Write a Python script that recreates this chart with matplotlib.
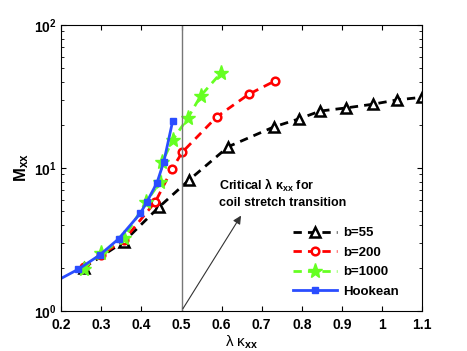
import numpy as np
import matplotlib.pyplot as plt

plt.rcParams['font.family'] = ['Liberation Sans', 'DejaVu Sans']
plt.rcParams['mathtext.fontset'] = 'custom'
plt.rcParams['mathtext.rm'] = 'Liberation Sans'
plt.rcParams['mathtext.bf'] = 'Liberation Sans:bold'

# b=55
x55 = [0.256, 0.356, 0.443, 0.518, 0.617, 0.731, 0.792, 0.846, 0.911, 0.977, 1.037, 1.10]
m55 = [2.0, 3.05, 5.3, 8.2, 14.1, 19.4, 22.0, 25.0, 26.3, 27.9, 29.9, 31.2]
# b=200
x200 = [0.256, 0.30, 0.356, 0.435, 0.477, 0.502, 0.588, 0.668, 0.733]
m200 = [2.02, 2.48, 3.12, 5.81, 9.9, 12.9, 22.8, 32.8, 40.6]
# b=1000
x1000 = [0.256, 0.30, 0.356, 0.412, 0.447, 0.452, 0.478, 0.516, 0.548, 0.599]
m1000 = [1.98, 2.53, 3.22, 5.8, 8.0, 11.0, 15.7, 22.4, 32.0, 46.4]
# Hookean
xh = [0.2, 0.243, 0.296, 0.343, 0.3975, 0.414, 0.439, 0.456, 0.478]
mh = [1.69, 1.96, 2.46, 3.19, 4.82, 5.81, 7.9, 11.07, 21.3]

fig = plt.figure(figsize=(4.67, 3.51), dpi=100)
ax = fig.add_axes([0.131, 0.114, 0.773, 0.815])

dash = (0, (3, 2.2))
ax.plot(x55, m55, color='k', ls=dash, lw=2, marker='^', ms=7, mfc='white',
        mec='k', mew=1.8, label='b=55')
ax.plot(x200, m200, color='#ff0000', ls=dash, lw=2, marker='o', ms=5.5, mfc='white',
        mec='#ff0000', mew=1.8, label='b=200')
ax.plot(x1000, m1000, color='#66ff22', ls=dash, lw=2, marker='*', ms=11,
        mfc='#66ff22', mec='#66ff22', label='b=1000')
ax.plot(xh, mh, color='#2a4dff', ls='-', lw=2, marker='s', ms=4.5,
        markevery=slice(1, None), label='Hookean')

ax.axvline(0.5, color='#777777', lw=1)
ax.annotate('', xy=(0.652, 4.82), xytext=(0.5, 1.0),
            arrowprops=dict(arrowstyle='-|>', color='#333333', lw=0.8, mutation_scale=12))
ax.text(0.593, 7.6, r'Critical λ κ$_{\mathbf{xx}}$ for', fontsize=9,
        fontweight='bold', va='center')
ax.text(0.593, 5.69, 'coil stretch transition', fontsize=9, fontweight='bold', va='center')

ax.set_yscale('log')
ax.set_xlim(0.2, 1.1)
ax.set_ylim(1, 100)
ax.set_xticks(np.arange(0.2, 1.11, 0.1))
ax.set_xticklabels(['0.2', '0.3', '0.4', '0.5', '0.6', '0.7', '0.8', '0.9', '1', '1.1'])
ax.tick_params(direction='in', which='both', top=True, right=True, labelsize=10)
ax.tick_params(axis='x', pad=5)
for lab in ax.get_xticklabels() + ax.get_yticklabels():
    lab.set_fontweight('bold')

ax.set_xlabel(r'λ κ$_{\mathbf{xx}}$', fontsize=11, labelpad=1)
ax.set_ylabel(r'$\mathbf{M_{xx}}$', fontsize=12, labelpad=2)

leg = ax.legend(loc='lower left', bbox_to_anchor=(0.61, 0.005), frameon=False,
                handlelength=3.3, fontsize=9.5, labelspacing=0.55, handletextpad=0.5)
for t in leg.get_texts():
    t.set_fontweight('bold')

fig.savefig('out.png', dpi=100)
